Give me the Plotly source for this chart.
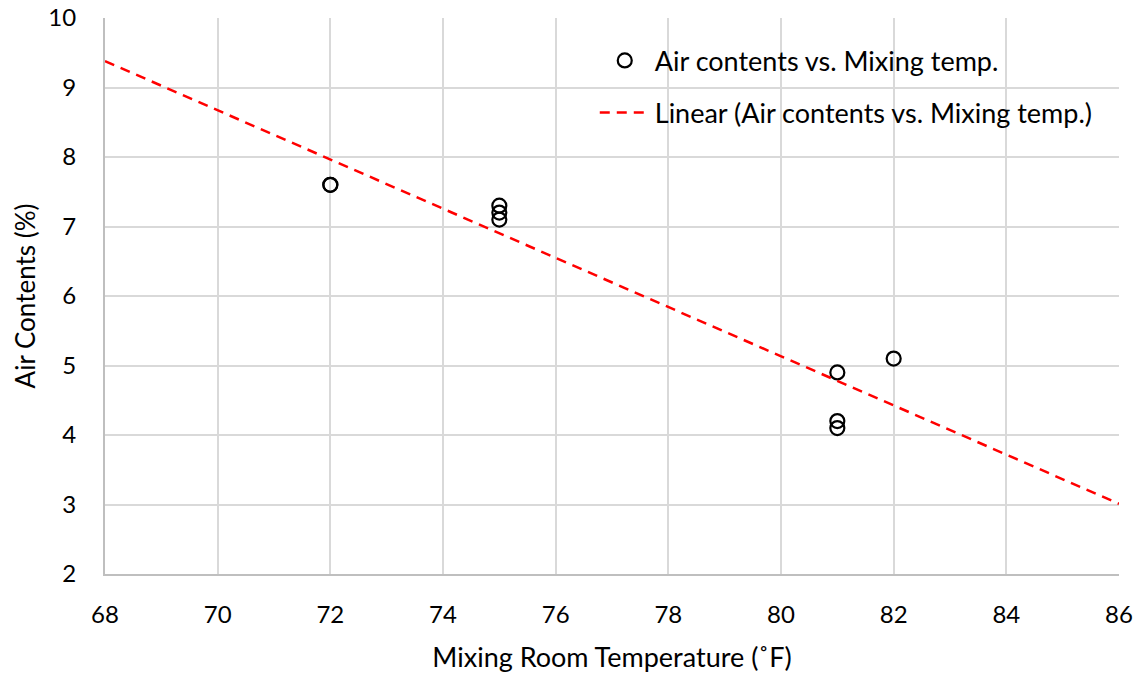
import plotly.graph_objects as go

temp_f = [72, 72, 75, 75, 75, 81, 81, 81, 82]
air_pct = [7.6, 7.6, 7.3, 7.2, 7.1, 4.9, 4.2, 4.1, 5.1]
trend_x = [68, 86]
trend_y = [9.38, 3.01]
x_ticks = [68, 70, 72, 74, 76, 78, 80, 82, 84, 86]
y_ticks = [2, 3, 4, 5, 6, 7, 8, 9, 10]

FONT = "Lato, 'Open Sans', sans-serif"

fig = go.Figure()
fig.add_trace(go.Scatter(
    x=temp_f, y=air_pct, mode="markers",
    name="Air contents vs. Mixing temp.",
    legendgroup="a",
    marker=dict(symbol="circle-open", size=14, color="black", line=dict(width=2.2, color="black")),
))
fig.add_trace(go.Scatter(
    x=trend_x, y=trend_y, mode="lines",
    name="Linear (Air contents vs. Mixing temp.)",
    legendgroup="b",
    line=dict(color="red", width=2.5, dash="10px,7px"),
))

fig.update_layout(
    width=1140, height=673,
    margin=dict(l=105, r=21, t=18, b=99),
    paper_bgcolor="white", plot_bgcolor="white",
    font=dict(family=FONT, size=24, color="black"),
    legend=dict(
        x=0.483, y=0.967, xanchor="left", yanchor="top",
        bgcolor="rgba(0,0,0,0)", font=dict(size=27),
        tracegroupgap=14, itemwidth=50,
    ),
    xaxis=dict(
        range=[68, 86], tickvals=x_ticks, showgrid=True, gridcolor="#d9d9d9", gridwidth=1.5,
        showline=True, linecolor="#bfbfbf", linewidth=2, zeroline=False, automargin=False,
        ticks="", ticklabelstandoff=18, tickfont=dict(size=24),
        title=dict(text="Mixing Room Temperature (˚F)", font=dict(size=27), standoff=22),
    ),
    yaxis=dict(
        range=[2, 10], tickvals=y_ticks, showgrid=True, gridcolor="#d9d9d9", gridwidth=1.5,
        showline=True, linecolor="#bfbfbf", linewidth=2, zeroline=False, automargin=False,
        ticks="", ticklabelstandoff=22, tickfont=dict(size=24),
        title=dict(text="Air Contents (%)", font=dict(size=26), standoff=5),
    ),
)

fig.write_html("out.html")
